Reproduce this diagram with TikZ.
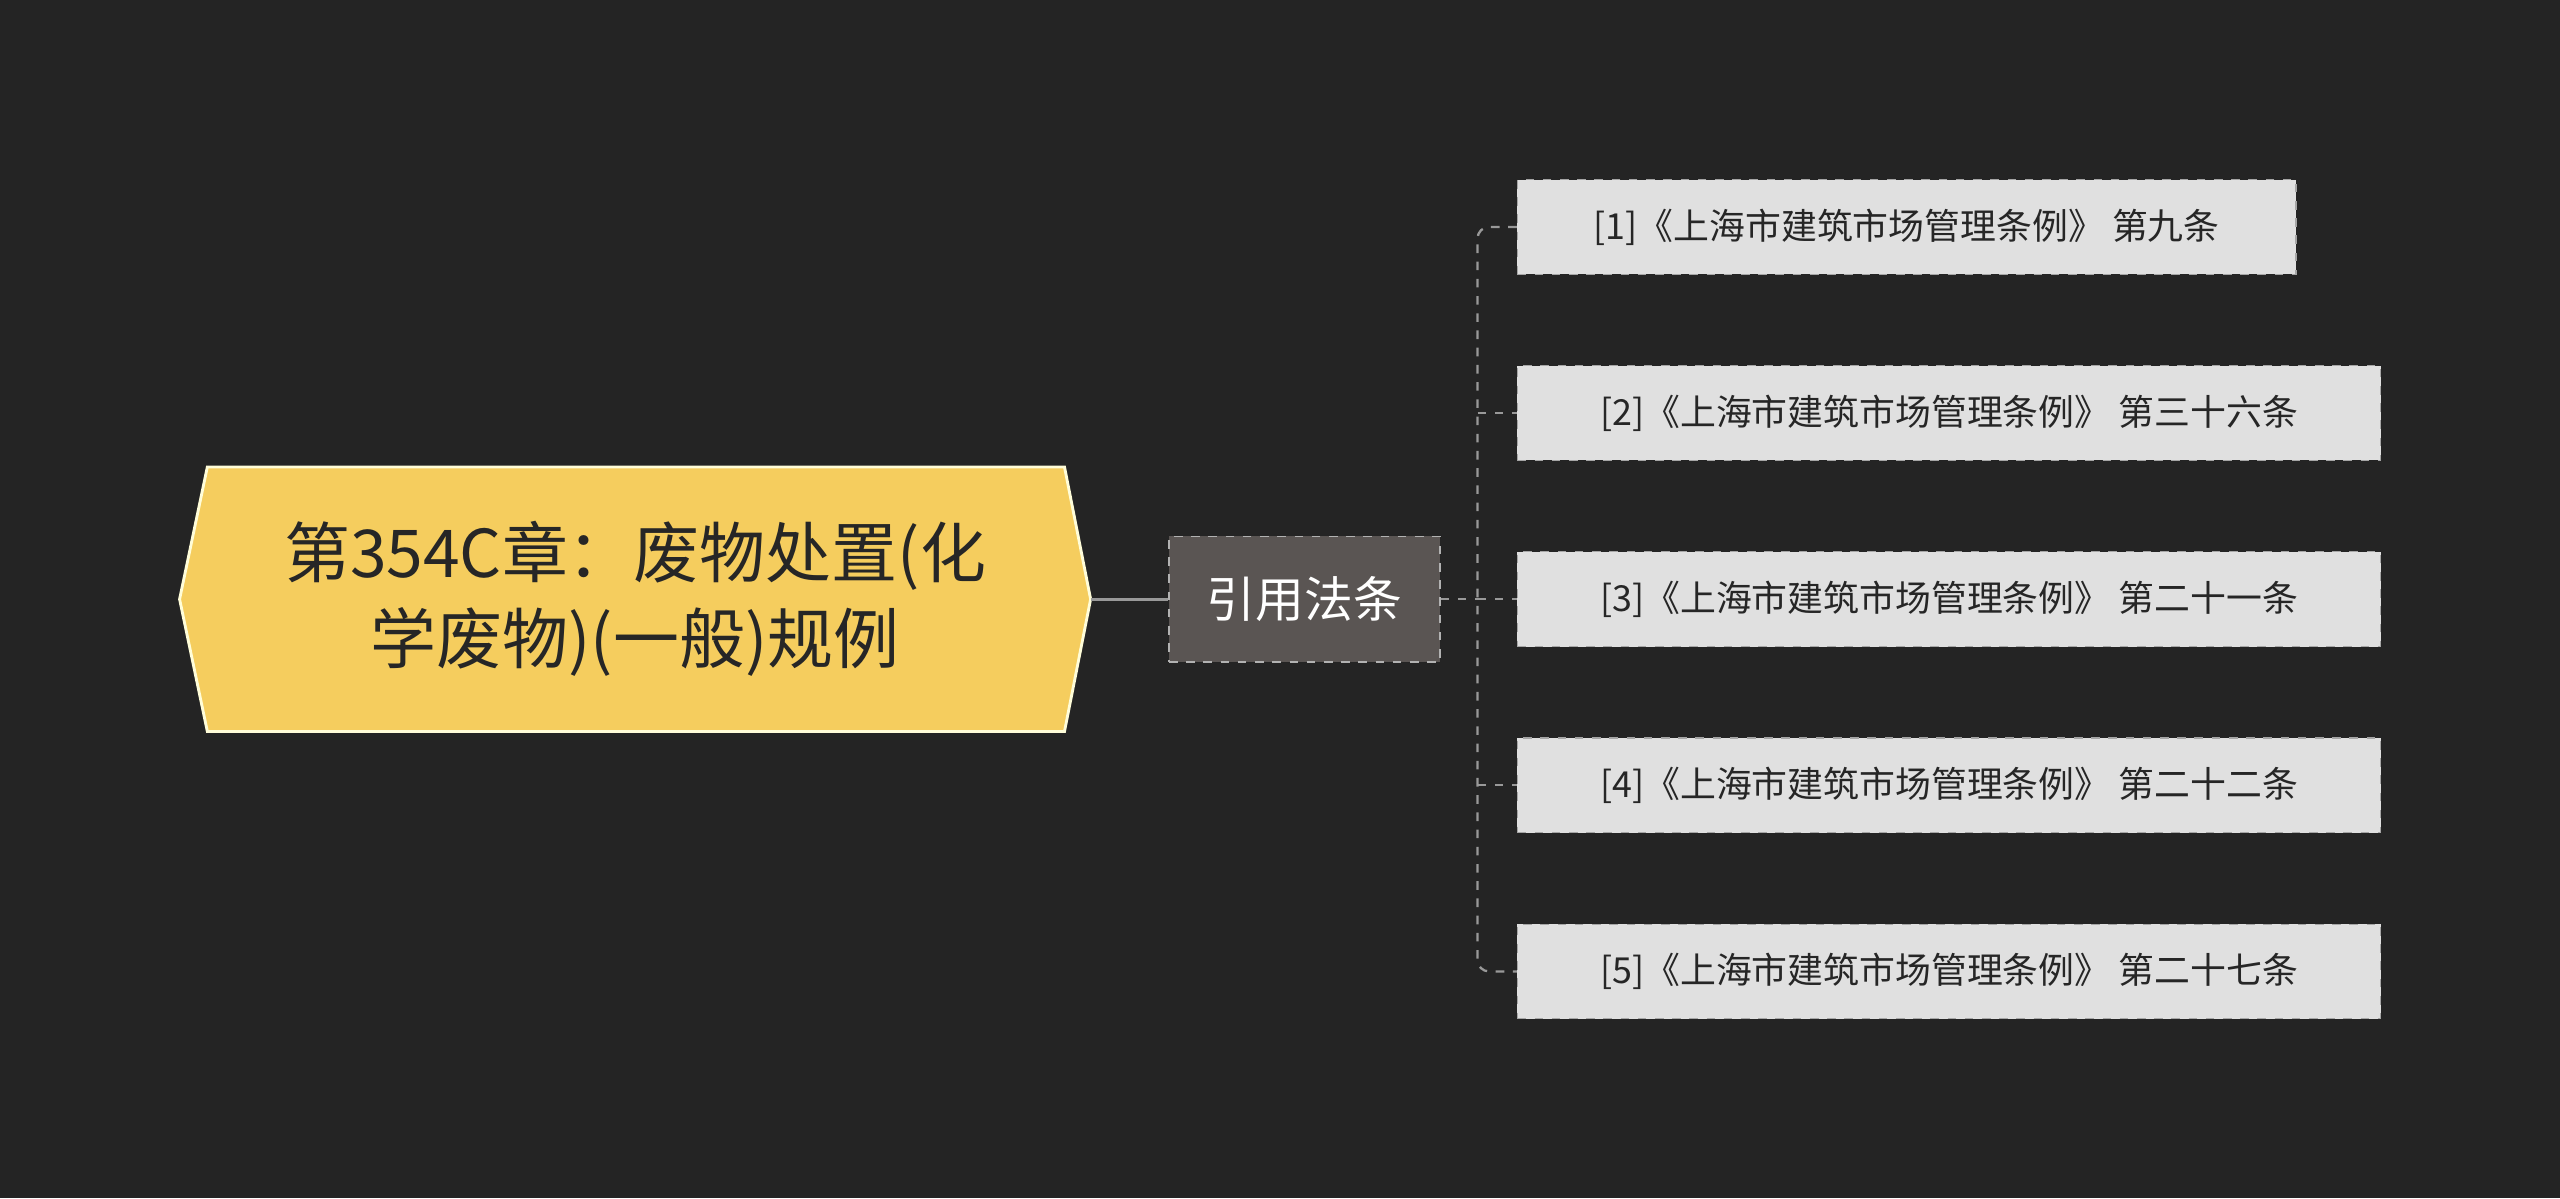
\documentclass[tikz,border=0pt]{standalone}
\usepackage{fontspec}
\setmainfont{Noto Sans CJK SC}
\begin{document}
\begin{tikzpicture}[x=0.02cm,y=-0.02cm,
  leaf/.style={draw=gray!70,dashed,fill=black!12,text=black!85,minimum height=1.16cm,anchor=west,inner xsep=0.28cm,font=\fontsize{12.5}{15}\selectfont},
  conn/.style={draw=gray!80,line width=0.8pt,dashed}]
\fill[black!86] (0,0) rectangle (1568,734);
\useasboundingbox (0,0) rectangle (1568,734);
\fill[fill={rgb,255:red,245;green,205;blue,94},draw=white!85!yellow,line width=1pt]
 (110,367) -- (127,286) -- (652,286) -- (668,367) -- (652,448) -- (127,448) -- cycle;
\node[align=center,text=black!85,font=\fontsize{23}{30}\selectfont] (main) at (389,367) {第354C章：废物处置(化\\学废物)(一般)规例};
\coordinate (mr) at (668,367);
\node[draw=gray!60,dashed,fill={rgb,255:red,90;green,85;blue,83},text=white,minimum width=3.32cm,minimum height=1.54cm,font=\fontsize{17}{20}\selectfont] (mid) at (799,367) {引用法条};
\draw[gray!80,line width=1pt] (mr) -- (mid.west);
\node[leaf,minimum width=9.54cm] (l1) at (929,139) {[1]《上海市建筑市场管理条例》 第九条};
\node[leaf,minimum width=10.58cm] (l2) at (929,253) {[2]《上海市建筑市场管理条例》 第三十六条};
\node[leaf,minimum width=10.58cm] (l3) at (929,367) {[3]《上海市建筑市场管理条例》 第二十一条};
\node[leaf,minimum width=10.58cm] (l4) at (929,481) {[4]《上海市建筑市场管理条例》 第二十二条};
\node[leaf,minimum width=10.58cm] (l5) at (929,595) {[5]《上海市建筑市场管理条例》 第二十七条};
\coordinate (t) at (905,367);
\draw[conn] (mid.east) -- (t);
\draw[conn,rounded corners=4] (l1.west) -- (905,139) -- (905,595) -- (l5.west);
\foreach \n in {l2,l3,l4} \draw[conn] (905,0 |- \n.west) -- (\n.west);
\end{tikzpicture}
\end{document}
